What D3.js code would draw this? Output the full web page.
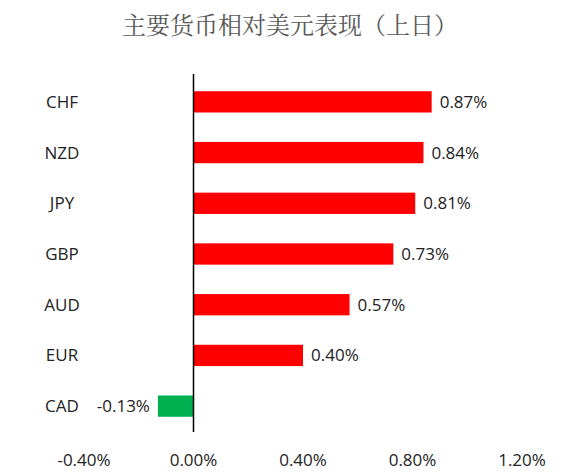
<!DOCTYPE html>
<html><head><meta charset="utf-8">
<script src="https://cdn.jsdelivr.net/npm/d3@7"></script>
<style>body{margin:0;background:#fff}</style></head>
<body><svg id="c" width="572" height="476"></svg>
<script>
const categories = ["CHF","NZD","JPY","GBP","AUD","EUR","CAD"];
const values = [0.87,0.84,0.81,0.73,0.57,0.40,-0.13];
const tickValues = [-0.4,0,0.4,0.8,1.2];
const tickLabels = ["-0.40%","0.00%","0.40%","0.80%","1.20%"];

const svg = d3.select("#c");
const x = d3.scaleLinear().domain([-0.4,1.2]).range([84,522]);
const y = d3.scaleBand().domain(categories).range([76,432]).paddingInner(0.58).paddingOuter(0.3);

svg.append("text").attr("x",290).attr("y",34).attr("text-anchor","middle")
  .attr("font-family","Noto Serif CJK SC, Noto Sans CJK SC").attr("font-size",24).attr("fill","#595959")
  .text("主要货币相对美元表现（上日）");

svg.selectAll("rect.bar").data(values).join("rect")
  .attr("x",d=>x(Math.min(0,d))).attr("width",d=>Math.abs(x(d)-x(0)))
  .attr("y",(d,i)=>y(categories[i])).attr("height",y.bandwidth())
  .attr("fill",d=>d<0?"#00b050":"#ff0000");

svg.append("line").attr("x1",x(0)).attr("x2",x(0)).attr("y1",74).attr("y2",432)
  .attr("stroke","#000").attr("stroke-width",1.5);

svg.selectAll("text.cat").data(categories).join("text")
  .attr("x",62).attr("y",d=>y(d)+y.bandwidth()/2+6).attr("text-anchor","middle")
  .attr("font-family","Open Sans, sans-serif").attr("font-size",17).attr("fill","#222").text(d=>d);

svg.selectAll("text.val").data(values).join("text")
  .attr("x",d=>d<0?x(d)-8:x(d)+8).attr("text-anchor",d=>d<0?"end":"start")
  .attr("y",(d,i)=>y(categories[i])+y.bandwidth()/2+6)
  .attr("font-family","Open Sans, sans-serif").attr("font-size",17).attr("fill","#222")
  .text(d=>d.toFixed(2)+"%");

svg.selectAll("text.tick").data(tickValues).join("text")
  .attr("x",d=>x(d)).attr("y",466).attr("text-anchor","middle")
  .attr("font-family","Open Sans, sans-serif").attr("font-size",17).attr("fill","#222")
  .text((d,i)=>tickLabels[i]);
</script></body></html>
